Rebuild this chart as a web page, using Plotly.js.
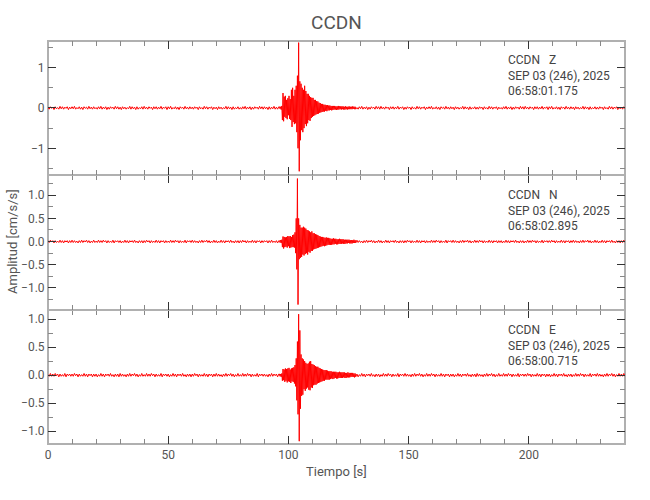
<!DOCTYPE html>
<html>
<head>
<meta charset="utf-8">
<script src="https://cdn.plot.ly/plotly-3.0.1.min.js"></script>
<style>
html,body{margin:0;padding:0;background:#fff;}
#chart{width:650px;height:500px;}
</style>
</head>
<body>
<div id="chart"></div>
<script>
const preStart = 0, preStep = 0.5;        // quiet part before the event
const evtStart = 96.25, evtStep = 0.25;   // event window
const postStart = 128.5, postStep = 0.5;  // quiet part after the event

const station = "CCDN";
const components = ["Z", "N", "E"];
const dateLabel = "SEP 03 (246), 2025";
const startTimes = ["06:58:01.175", "06:58:02.895", "06:58:00.715"];
const xTickVals = [0, 50, 100, 150, 200];

// ---- Z component (cm/s/s)
const zPre = [
.02,-.03,.03,-.01,.02,-.04,.03,-.02,.01,-.03,.04,-.02,.03,-.03,.02,-.01,.03,-.04,.02,-.02,
.03,-.02,.04,-.03,.01,-.02,.03,-.03,.02,-.04,.03,-.01,.02,-.03,.04,-.02,.02,-.03,.03,-.02,
.01,-.03,.03,-.02,.04,-.03,.02,-.02,.03,-.04,.02,-.03,.03,-.01,.02,-.03,.04,-.02,.03,-.03,
.02,-.04,.03,-.02,.02,-.03,.01,-.02,.04,-.03,.03,-.02,.02,-.04,.03,-.03,.01,-.02,.03,-.03,
.04,-.02,.02,-.03,.03,-.01,.02,-.04,.03,-.02,.03,-.03,.02,-.02,.04,-.03,.02,-.01,.03,-.04,
.03,-.02,.04,-.03,.01,-.02,.03,-.03,.02,-.04,.03,-.01,.02,-.03,.04,-.02,.02,-.03,.03,-.02,
.02,-.03,.03,-.01,.02,-.04,.03,-.02,.01,-.03,.04,-.02,.03,-.03,.02,-.01,.03,-.04,.02,-.02,
.02,-.04,.03,-.02,.02,-.03,.01,-.02,.04,-.03,.03,-.02,.02,-.04,.03,-.03,.01,-.02,.03,-.03,
.01,-.03,.03,-.02,.04,-.03,.02,-.02,.03,-.04,.02,-.03,.03,-.01,.02,-.03,.04,-.02,.03,-.03,
.03,-.02,.02,-.04,.03,-.03,.02,-.02,.04,-.03,.02,-.03,.03];
const zEvt = [.03,-.02,.03,-.04,.05,-.30,.37,-.33,
.28,-.22,.30,-.25,.20,-.28,.24,-.18,
.30,-.27,.22,-.30,.45,-.47,.50,-.35,
.30,-.40,.45,-.38,.55,-.60,.80,-1.0,
1.62,-1.57,.66,-.80,.60,-.55,.50,-.60,
.45,-.50,.55,-.40,.42,-.45,.35,-.38,
.35,-.30,.30,-.32,.27,-.25,.25,-.22,
.25,-.20,.20,-.18,.20,-.16,.17,-.15,
.16,-.14,.13,-.12,.12,-.11,.10,-.10,
.10,-.09,.08,-.09,.08,-.07,.07,-.08,
.07,-.06,.06,-.06,.06,-.05,.05,-.06,
.05,-.05,.05,-.04,.05,-.04,.04,-.05,
.04,-.04,.05,-.04,.04,-.03,.04,-.04,
.04,-.03,.04,-.04,.03,-.04,.04,-.03,
.03,-.04,.03,-.03,.04,-.03,.03,-.03,
.03,-.03,.04,-.02,.03,-.03,.03,-.03];
const zPost = [
.01,-.03,.03,-.02,.04,-.03,.02,-.02,.03,-.04,.02,-.03,.03,-.01,.02,-.03,.04,-.02,.03,-.03,
.04,-.02,.02,-.03,.03,-.01,.02,-.04,.03,-.02,.03,-.03,.02,-.02,.04,-.03,.02,-.01,.03,-.04,
.02,-.03,.03,-.01,.02,-.04,.03,-.02,.01,-.03,.04,-.02,.03,-.03,.02,-.01,.03,-.04,.02,-.02,
.03,-.02,.04,-.03,.01,-.02,.03,-.03,.02,-.04,.03,-.01,.02,-.03,.04,-.02,.02,-.03,.03,-.02,
.02,-.04,.03,-.02,.02,-.03,.01,-.02,.04,-.03,.03,-.02,.02,-.04,.03,-.03,.01,-.02,.03,-.03,
.02,-.03,.03,-.01,.02,-.04,.03,-.02,.01,-.03,.04,-.02,.03,-.03,.02,-.01,.03,-.04,.02,-.02,
.01,-.03,.03,-.02,.04,-.03,.02,-.02,.03,-.04,.02,-.03,.03,-.01,.02,-.03,.04,-.02,.03,-.03,
.04,-.02,.02,-.03,.03,-.01,.02,-.04,.03,-.02,.03,-.03,.02,-.02,.04,-.03,.02,-.01,.03,-.04,
.03,-.02,.04,-.03,.01,-.02,.03,-.03,.02,-.04,.03,-.01,.02,-.03,.04,-.02,.02,-.03,.03,-.02,
.02,-.04,.03,-.02,.02,-.03,.01,-.02,.04,-.03,.03,-.02,.02,-.04,.03,-.03,.01,-.02,.03,-.03,
.02,-.03,.03,-.01,.02,-.04,.03,-.02,.01,-.03,.04,-.02,.03,-.03,.02,-.01,.03,-.04,.02,-.02,
.02,-.03,.03,-.02];

// ---- N component (cm/s/s)
const nPre = [
.02,-.02,.03,-.01,.02,-.03,.02,-.02,.01,-.02,.03,-.02,.02,-.03,.02,-.01,.02,-.03,.02,-.02,
.03,-.02,.02,-.02,.01,-.03,.02,-.02,.03,-.02,.02,-.01,.03,-.02,.02,-.03,.01,-.02,.03,-.02,
.01,-.02,.03,-.02,.02,-.02,.03,-.01,.02,-.03,.02,-.02,.01,-.02,.03,-.03,.02,-.01,.02,-.02,
.02,-.03,.01,-.02,.03,-.02,.02,-.03,.02,-.01,.02,-.02,.03,-.02,.01,-.03,.02,-.02,.02,-.03,
.02,-.02,.03,-.01,.02,-.03,.02,-.02,.01,-.02,.03,-.02,.02,-.03,.02,-.01,.02,-.03,.02,-.02,
.01,-.02,.03,-.02,.02,-.02,.03,-.01,.02,-.03,.02,-.02,.01,-.02,.03,-.03,.02,-.01,.02,-.02,
.03,-.02,.02,-.02,.01,-.03,.02,-.02,.03,-.02,.02,-.01,.03,-.02,.02,-.03,.01,-.02,.03,-.02,
.02,-.03,.01,-.02,.03,-.02,.02,-.03,.02,-.01,.02,-.02,.03,-.02,.01,-.03,.02,-.02,.02,-.03,
.02,-.02,.03,-.01,.02,-.03,.02,-.02,.01,-.02,.03,-.02,.02,-.03,.02,-.01,.02,-.03,.02,-.02,
.02,-.01,.02,-.03,.02,-.02,.03,-.02,.01,-.02,.02,-.03,.02];
const nEvt = [.02,-.02,.03,-.03,.04,-.12,.11,-.15,
.10,-.12,.09,-.11,.10,-.13,.12,-.10,
.11,-.14,.12,-.13,.10,-.12,.14,-.12,
.15,-.13,.20,-.25,.50,-.60,1.36,-1.36,
.50,-.38,.36,-.35,.30,-.33,.30,-.28,
.32,-.30,.30,-.27,.28,-.25,.25,-.28,
.24,-.22,.22,-.24,.20,-.20,.22,-.20,
.18,-.17,.18,-.16,.16,-.15,.15,-.14,
.14,-.13,.12,-.12,.11,-.11,.10,-.10,
.10,-.09,.09,-.10,.08,-.09,.09,-.08,
.08,-.07,.08,-.07,.07,-.07,.06,-.07,
.06,-.06,.07,-.06,.06,-.05,.06,-.06,
.05,-.06,.05,-.05,.06,-.05,.05,-.05,
.05,-.04,.05,-.05,.04,-.05,.04,-.04,
.04,-.04,.04,-.03,.04,-.04,.03,-.04,
.03,-.04,.03,-.03,.04,-.03,.03,-.03];
const nPost = [
.03,-.02,.02,-.02,.01,-.03,.02,-.02,.03,-.02,.02,-.01,.03,-.02,.02,-.03,.01,-.02,.03,-.02,
.02,-.03,.01,-.02,.03,-.02,.02,-.03,.02,-.01,.02,-.02,.03,-.02,.01,-.03,.02,-.02,.02,-.03,
.02,-.02,.03,-.01,.02,-.03,.02,-.02,.01,-.02,.03,-.02,.02,-.03,.02,-.01,.02,-.03,.02,-.02,
.01,-.02,.03,-.02,.02,-.02,.03,-.01,.02,-.03,.02,-.02,.01,-.02,.03,-.03,.02,-.01,.02,-.02,
.03,-.02,.02,-.02,.01,-.03,.02,-.02,.03,-.02,.02,-.01,.03,-.02,.02,-.03,.01,-.02,.03,-.02,
.02,-.02,.03,-.01,.02,-.03,.02,-.02,.01,-.02,.03,-.02,.02,-.03,.02,-.01,.02,-.03,.02,-.02,
.02,-.03,.01,-.02,.03,-.02,.02,-.03,.02,-.01,.02,-.02,.03,-.02,.01,-.03,.02,-.02,.02,-.03,
.01,-.02,.03,-.02,.02,-.02,.03,-.01,.02,-.03,.02,-.02,.01,-.02,.03,-.03,.02,-.01,.02,-.02,
.02,-.02,.03,-.01,.02,-.03,.02,-.02,.01,-.02,.03,-.02,.02,-.03,.02,-.01,.02,-.03,.02,-.02,
.03,-.02,.02,-.02,.01,-.03,.02,-.02,.03,-.02,.02,-.01,.03,-.02,.02,-.03,.01,-.02,.03,-.02,
.02,-.03,.01,-.02,.03,-.02,.02,-.03,.02,-.01,.02,-.02,.03,-.02,.01,-.03,.02,-.02,.02,-.03,
.02,-.02,.03,-.02];

// ---- E component (cm/s/s)
const ePre = [
.01,-.02,.03,-.02,.02,-.02,.03,-.01,.02,-.03,.02,-.02,.01,-.02,.03,-.03,.02,-.01,.02,-.02,
.02,-.02,.03,-.01,.02,-.03,.02,-.02,.01,-.02,.03,-.02,.02,-.03,.02,-.01,.02,-.03,.02,-.02,
.02,-.03,.01,-.02,.03,-.02,.02,-.03,.02,-.01,.02,-.02,.03,-.02,.01,-.03,.02,-.02,.02,-.03,
.03,-.02,.02,-.02,.01,-.03,.02,-.02,.03,-.02,.02,-.01,.03,-.02,.02,-.03,.01,-.02,.03,-.02,
.01,-.02,.03,-.02,.02,-.02,.03,-.01,.02,-.03,.02,-.02,.01,-.02,.03,-.03,.02,-.01,.02,-.02,
.02,-.03,.01,-.02,.03,-.02,.02,-.03,.02,-.01,.02,-.02,.03,-.02,.01,-.03,.02,-.02,.02,-.03,
.02,-.02,.03,-.01,.02,-.03,.02,-.02,.01,-.02,.03,-.02,.02,-.03,.02,-.01,.02,-.03,.02,-.02,
.03,-.02,.02,-.02,.01,-.03,.02,-.02,.03,-.02,.02,-.01,.03,-.02,.02,-.03,.01,-.02,.03,-.02,
.01,-.02,.03,-.02,.02,-.02,.03,-.01,.02,-.03,.02,-.02,.01,-.02,.03,-.03,.02,-.01,.02,-.02,
.02,-.02,.01,-.03,.02,-.02,.03,-.02,.02,-.01,.02,-.03,.02];
const eEvt = [.02,-.02,.02,-.03,.03,-.10,.11,-.09,
.10,-.12,.12,-.10,.11,-.13,.12,-.11,
.13,-.12,.10,-.14,.12,-.11,.13,-.12,
.14,-.15,.18,-.20,.30,-.45,.60,-.70,
1.09,-1.18,.80,-.60,.37,-.37,.30,-.35,
.28,-.25,.25,-.28,.22,-.24,.20,-.22,
.21,-.26,.24,-.27,.25,-.22,.20,-.23,
.19,-.18,.18,-.17,.16,-.17,.15,-.15,
.15,-.14,.13,-.13,.12,-.12,.11,-.11,
.10,-.10,.09,-.10,.09,-.08,.09,-.08,
.08,-.08,.07,-.08,.07,-.07,.07,-.06,
.06,-.07,.06,-.06,.06,-.05,.06,-.06,
.05,-.06,.05,-.05,.06,-.05,.05,-.05,
.05,-.05,.05,-.04,.05,-.05,.04,-.05,
.04,-.04,.05,-.04,.04,-.04,.04,-.03,
.04,-.03,.04,-.03,.03,-.04,.03,-.03];
const ePost = [
.02,-.03,.01,-.02,.03,-.02,.02,-.03,.02,-.01,.02,-.02,.03,-.02,.01,-.03,.02,-.02,.02,-.03,
.01,-.02,.03,-.02,.02,-.02,.03,-.01,.02,-.03,.02,-.02,.01,-.02,.03,-.03,.02,-.01,.02,-.02,
.03,-.02,.02,-.02,.01,-.03,.02,-.02,.03,-.02,.02,-.01,.03,-.02,.02,-.03,.01,-.02,.03,-.02,
.02,-.02,.03,-.01,.02,-.03,.02,-.02,.01,-.02,.03,-.02,.02,-.03,.02,-.01,.02,-.03,.02,-.02,
.02,-.03,.01,-.02,.03,-.02,.02,-.03,.02,-.01,.02,-.02,.03,-.02,.01,-.03,.02,-.02,.02,-.03,
.03,-.02,.02,-.02,.01,-.03,.02,-.02,.03,-.02,.02,-.01,.03,-.02,.02,-.03,.01,-.02,.03,-.02,
.01,-.02,.03,-.02,.02,-.02,.03,-.01,.02,-.03,.02,-.02,.01,-.02,.03,-.03,.02,-.01,.02,-.02,
.02,-.02,.03,-.01,.02,-.03,.02,-.02,.01,-.02,.03,-.02,.02,-.03,.02,-.01,.02,-.03,.02,-.02,
.02,-.03,.01,-.02,.03,-.02,.02,-.03,.02,-.01,.02,-.02,.03,-.02,.01,-.03,.02,-.02,.02,-.03,
.01,-.02,.03,-.02,.02,-.02,.03,-.01,.02,-.03,.02,-.02,.01,-.02,.03,-.03,.02,-.01,.02,-.02,
.03,-.02,.02,-.02,.01,-.03,.02,-.02,.03,-.02,.02,-.01,.03,-.02,.02,-.03,.01,-.02,.03,-.02,
.02,-.02,.03,-.02];

function buildTrace(pre, evt, post) {
  const x = [], y = [];
  pre.forEach((v, i) => { x.push(preStart + i * preStep); y.push(v); });
  evt.forEach((v, i) => { x.push(evtStart + i * evtStep); y.push(v); });
  post.forEach((v, i) => { x.push(postStart + i * postStep); y.push(v); });
  return {x, y};
}

const FONT = "Roboto, 'Liberation Sans', sans-serif";
const TXT = "#555";
const series = [
  {d: buildTrace(zPre, zEvt, zPost), xa: "x3", ya: "y3"},
  {d: buildTrace(nPre, nEvt, nPost), xa: "x2", ya: "y2"},
  {d: buildTrace(ePre, eEvt, ePost), xa: "x", ya: "y"}
];
const data = series.map(s => ({
  type: "scatter", mode: "lines", x: s.d.x, y: s.d.y, xaxis: s.xa, yaxis: s.ya,
  line: {color: "#ff0000", width: 1}, hoverinfo: "skip", showlegend: false
}));

const AXLINE = "#b0b0b0";
function xAxis(anchor, showLabels) {
  return {
    domain: [0, 1], anchor: anchor, range: [0, 240], tickvals: xTickVals,
    ticks: "inside", ticklen: 8, tickwidth: 1, tickcolor: "#333",
    minor: {dtick: 10, tick0: 0, ticks: "inside", ticklen: 5, tickcolor: "#888", tickwidth: 1, showgrid: false},
    showline: true, linecolor: AXLINE, linewidth: 1, mirror: "ticks",
    showgrid: false, zeroline: false, showticklabels: showLabels,
    tickfont: {family: FONT, size: 12, color: TXT}, fixedrange: true
  };
}
function yAxis(domain, anchor, range, dtick, minorDtick, fmt) {
  return {
    domain: domain, anchor: anchor, range: range, dtick: dtick, tick0: 0, tickformat: fmt,
    ticks: "inside", ticklen: 8, tickwidth: 1, tickcolor: "#333",
    minor: {dtick: minorDtick, tick0: 0, ticks: "inside", ticklen: 5, tickcolor: "#888", tickwidth: 1, showgrid: false},
    showline: true, linecolor: AXLINE, linewidth: 1, mirror: "ticks",
    showgrid: false, zeroline: false,
    tickfont: {family: FONT, size: 12, color: TXT}, fixedrange: true
  };
}

// plot area: top 41 px, height 403 px
const PT = 41, PH = 403, PL = 48, PW = 577;
const py = p => 1 - (p - PT) / PH;
const px = p => (p - PL) / PW;
const infoMid = [75.5, 210.5, 345.3];   // centre of each 3-line label block
const annotations = components.map((c, i) => ({
  xref: "paper", yref: "paper", x: px(506), y: py(infoMid[i]), xanchor: "left", yanchor: "middle",
  align: "left", showarrow: false, font: {family: FONT, size: 12, color: "#444"},
  text: station + "\u00a0\u00a0\u00a0" + c + "<br>" + dateLabel + "<br>" + startTimes[i]
}));
annotations.push({
  xref: "paper", yref: "paper", x: px(13), y: py(242), xanchor: "center", yanchor: "middle",
  textangle: -90, showarrow: false, text: "Amplitud [cm/s/s]",
  font: {family: FONT, size: 13, color: TXT}
});
annotations.push({
  xref: "paper", yref: "paper", x: px(336.5), y: py(471), xanchor: "center", yanchor: "middle",
  showarrow: false, text: "Tiempo [s]", font: {family: FONT, size: 13, color: TXT}
});

const layout = {
  width: 650, height: 500,
  margin: {l: PL, r: 650 - PL - PW, t: PT, b: 500 - PT - PH, pad: 0},
  paper_bgcolor: "#fff", plot_bgcolor: "#fff",
  title: {text: station, x: 0.5, xref: "paper", y: 1 - 22 / 500, yref: "container", yanchor: "middle",
          font: {family: FONT, size: 19, color: TXT}},
  xaxis: xAxis("y", true),
  xaxis2: Object.assign(xAxis("y2", false), {matches: "x"}),
  xaxis3: Object.assign(xAxis("y3", false), {matches: "x"}),
  yaxis: yAxis([0, 1/3], "x", [-1.23, 1.17], 0.5, 0.25, ".1f"),
  yaxis2: yAxis([1/3, 2/3], "x2", [-1.47, 1.43], 0.5, 0.25, ".1f"),
  yaxis3: yAxis([2/3, 1], "x3", [-1.67, 1.66], 1, 0.5, "d"),
  shapes: [{type: "rect", xref: "paper", yref: "paper", x0: 0, x1: 1, y0: 0, y1: 1,
            line: {color: AXLINE, width: 2}, layer: "below"}],
  annotations: annotations,
  hovermode: false, showlegend: false
};

Plotly.newPlot("chart", data, layout, {displayModeBar: false, staticPlot: true});
</script>
</body>
</html>
